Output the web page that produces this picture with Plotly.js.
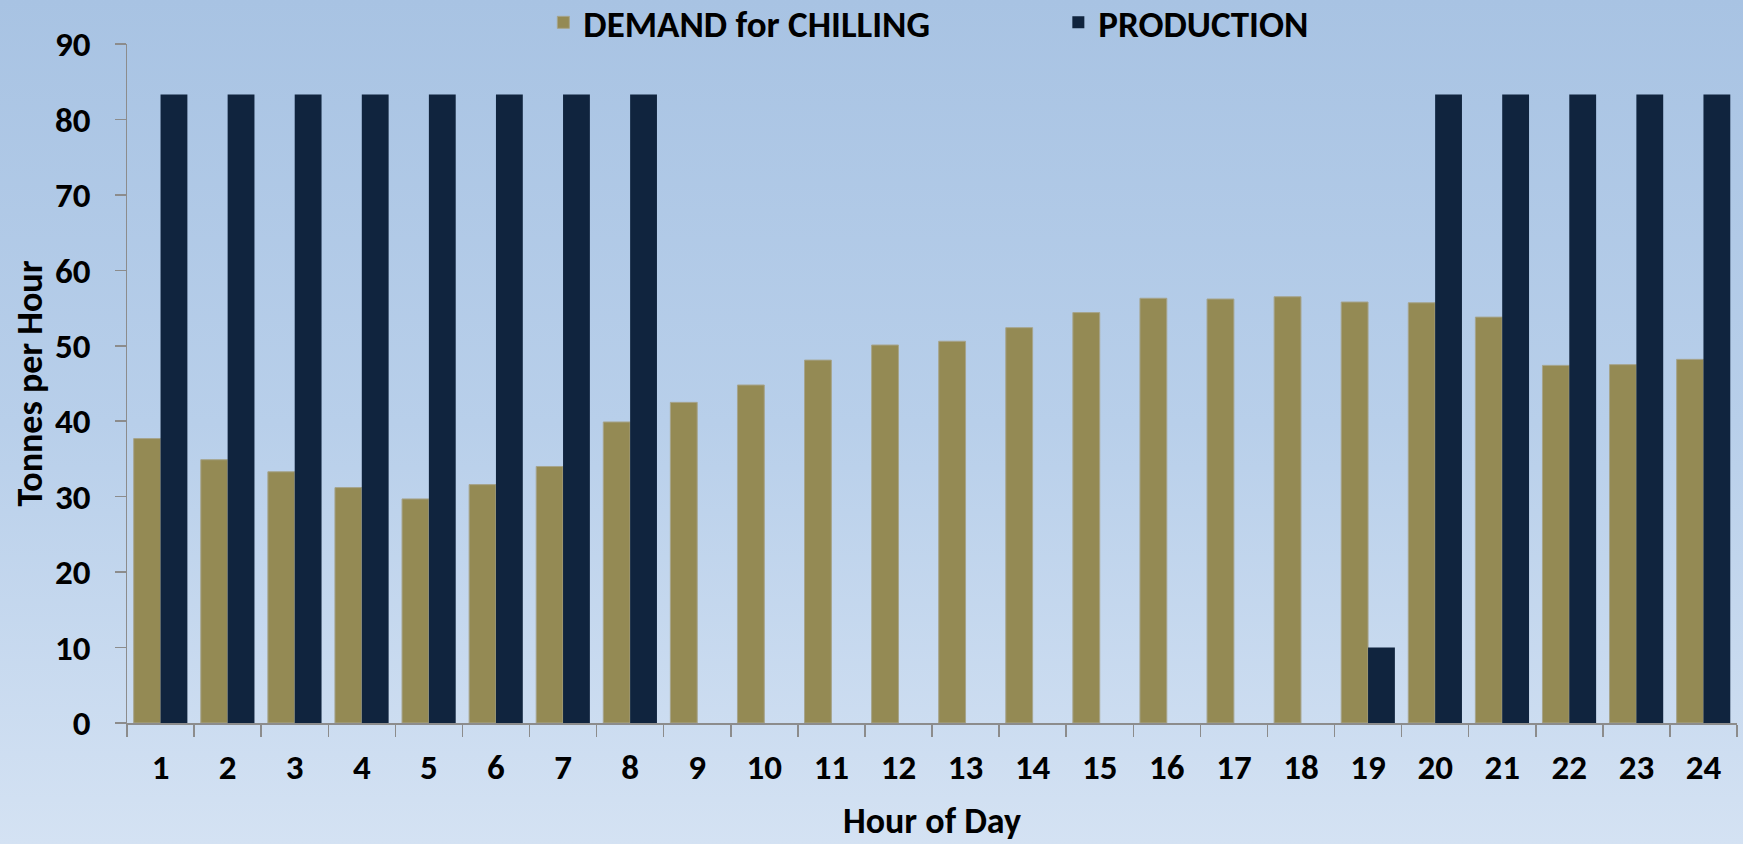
<!DOCTYPE html>
<html>
<head>
<meta charset="utf-8">
<script src="https://cdn.plot.ly/plotly-3.0.1.min.js"></script>
<style>
  html, body { margin: 0; padding: 0; }
  body { width: 1743px; height: 844px; background: linear-gradient(to bottom, #a8c3e3 0%, #b8cfea 50%, #d4e2f3 100%); }
  #chart { width: 1743px; height: 844px; }
</style>
</head>
<body>
<div id="chart"></div>
<script>
const hours = ["1","2","3","4","5","6","7","8","9","10","11","12","13","14","15","16","17","18","19","20","21","22","23","24"];
const demand = [37.7, 34.9, 33.3, 31.2, 29.7, 31.6, 34.0, 39.9, 42.5, 44.8, 48.1, 50.1, 50.6, 52.4, 54.4, 56.3, 56.2, 56.5, 55.8, 55.7, 53.8, 47.4, 47.5, 48.2];
const production = [83.3, 83.3, 83.3, 83.3, 83.3, 83.3, 83.3, 83.3, 0, 0, 0, 0, 0, 0, 0, 0, 0, 0, 10, 83.3, 83.3, 83.3, 83.3, 83.3];
const seriesNames = ["DEMAND for CHILLING", "PRODUCTION"];
const yTicks = [0, 10, 20, 30, 40, 50, 60, 70, 80, 90];

const FONT = "Carlito, Lato, 'Open Sans', sans-serif";

const traces = [
  {
    type: "bar", name: seriesNames[0], x: hours, y: demand,
    marker: { color: "#948a54", line: { color: "#a6a48c", width: 1 } },
    hoverinfo: "x+y"
  },
  {
    type: "bar", name: seriesNames[1], x: hours, y: production,
    marker: { color: "#10243e", line: { width: 0 } },
    hoverinfo: "x+y"
  }
];

const layout = {
  width: 1743, height: 844,
  paper_bgcolor: "rgba(0,0,0,0)",
  plot_bgcolor: "rgba(0,0,0,0)",
  margin: { l: 127, r: 6, t: 44, b: 121, pad: 0, autoexpand: false },
  font: { family: FONT, color: "#000000", size: 30, weight: "bold" },
  barmode: "group",
  bargap: 0.2,
  bargroupgap: 0,
  showlegend: true,
  legend: {
    orientation: "h",
    xref: "paper", x: 0.2586, xanchor: "left",
    yref: "container", y: 0.973, yanchor: "middle",
    font: { family: FONT, size: 37, color: "#000", weight: "bold" },
    bgcolor: "rgba(0,0,0,0)",
    entrywidth: 470,
    itemwidth: 30,
    traceorder: "normal"
  },
  xaxis: {
    type: "category",
    range: [-0.5, 23.5],
    showline: true, linecolor: "#8c8c8c", linewidth: 1.5,
    ticks: "outside", tickson: "boundaries", ticklen: 12, tickcolor: "#8c8c8c", tickwidth: 1.5,
    showgrid: false, zeroline: false,
    tickfont: { family: FONT, size: 35, color: "#000", weight: "bold" },
    ticklabelstandoff: 12,
    title: { text: "Hour of Day", font: { family: FONT, size: 36, color: "#000", weight: "bold" }, standoff: 21 },
    fixedrange: true
  },
  yaxis: {
    range: [0, 90],
    tickvals: yTicks,
    ticktext: yTicks.map(String),
    showline: true, linecolor: "#8c8c8c", linewidth: 1.5,
    ticks: "outside", ticklen: 11, tickcolor: "#8c8c8c", tickwidth: 1.5,
    showgrid: false, zeroline: false,
    tickfont: { family: FONT, size: 35, color: "#000", weight: "bold" },
    ticklabelstandoff: 17,
    title: { text: "Tonnes per Hour", font: { family: FONT, size: 36, color: "#000", weight: "bold" }, standoff: 1 },
    fixedrange: true
  }
};

Plotly.newPlot("chart", traces, layout, { displayModeBar: false, staticPlot: true });
</script>
</body>
</html>
